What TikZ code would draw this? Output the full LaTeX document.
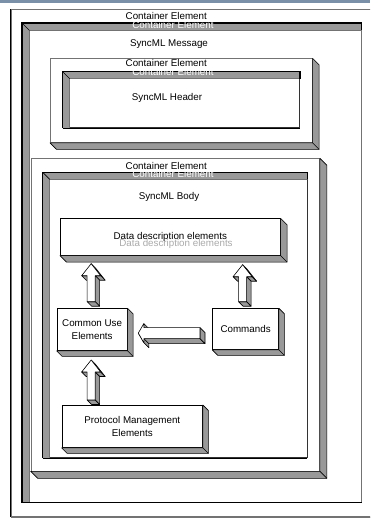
\documentclass[tikz,border=0pt]{standalone}
\usepackage{fontspec}
\setmainfont{Liberation Sans}
\usetikzlibrary{calc, positioning}
\definecolor{cBar}{RGB}{122,143,168}
\definecolor{cFace}{RGB}{153,153,153}
\definecolor{cEdge}{RGB}{115,115,115}
\definecolor{cGhost}{RGB}{170,170,170}
\newcommand{\lblfont}{\fontsize{9.8}{12.5}\selectfont}
\tikzset{
	container/.style={rectangle, draw=cEdge, fill=white, line width=0.6pt, inner sep=0pt, anchor=north west},
	trayrect/.style ={rectangle, draw=black!80, fill=white, line width=0.6pt, inner sep=0pt, anchor=north west},
	elem/.style     ={rectangle, draw=black, fill=white, line width=0.6pt, inner sep=0pt, anchor=north west, align=center, font=\lblfont},
	sideface/.style ={draw=black, fill=cFace, line width=0.6pt, line join=round},
	frontface/.style={draw=black, fill=white, line width=0.6pt, line join=round},
	lbl/.style      ={font=\lblfont, inner sep=0pt},
	ghost/.style    ={font=\lblfont, inner sep=0pt, text=white},
}
% raised box: right and bottom faces of a node
\newcommand{\raisedfaces}[2]{%
	\path[sideface] (#1.north east) -- ++(#2,#2) -- ($(#1.south east)+(#2,#2)$) -- ($(#1.south west)+(#2,#2)$) -- (#1.south west) -- (#1.south east) -- cycle;
	\draw[line width=0.6pt] (#1.south east) -- ++(#2,#2);
}
% sunken tray: top and left walls inside a node
\newcommand{\trayfaces}[2]{%
	\path[fill=cFace] (#1.north west) -- (#1.north east) -- ($(#1.north east)+(0,#2)$) -- ($(#1.north west)+(#2,#2)$) -- ($(#1.south west)+(#2,0)$) -- (#1.south west) -- cycle;
	\draw[cEdge, line width=0.6pt] ($(#1.north east)+(0,#2)$) -- ($(#1.north west)+(#2,#2)$) -- ($(#1.south west)+(#2,0)$);
	\draw[line width=1.4pt] (#1.south west) -- (#1.north west) -- (#1.north east) -- ++(0,#2);
	\draw[line width=0.6pt] (#1.north west) -- ++(#2,#2);
	\draw[line width=0.6pt] (#1.south west) -- (#1.south east);
}
% 3d block arrow pointing up, #1 = foot of the shaft, #2 = length
\newcommand{\uparrowiii}[2]{%
	\begin{scope}[shift={#1}]
		\pgfmathsetmacro{\hy}{-#2+12}
		\pgfmathsetmacro{\hd}{-#2+16.5}
		\pgfmathsetmacro{\ty}{-#2+4.5}
		\path[sideface] (-9.5,\hy) -- (-4,\hy) -- (0.5,\hd) -- (-5,\hd) -- cycle;
		\path[sideface] (0,-#2) -- (9.5,\hy) -- (14,\hd) -- (4.5,\ty) -- cycle;
		\path[sideface] (9.5,\hy) -- (4,\hy) -- (8.5,\hd) -- (14,\hd) -- cycle;
		\path[sideface] (4,\hy) -- (4,0) -- (8.5,4.5) -- (8.5,\hd) -- cycle;
		\path[sideface] (-4,0) -- (4,0) -- (8.5,4.5) -- (0.5,4.5) -- cycle;
		\path[frontface] (0,-#2) -- (9.5,\hy) -- (4,\hy) -- (4,0) -- (-4,0) -- (-4,\hy) -- (-9.5,\hy) -- cycle;
	\end{scope}
}
% 3d block arrow pointing left, #1 = end of the shaft, #2 = length
\newcommand{\leftarrowiii}[2]{%
	\begin{scope}[shift={#1}]
		\pgfmathsetmacro{\hx}{-#2+5.5}
		\pgfmathsetmacro{\hd}{-#2+10.5}
		\pgfmathsetmacro{\tx}{-#2+5}
		\path[sideface] (\hx,-9.5) -- (\hx,-5.5) -- (\hd,-0.5) -- (\hd,-4.5) -- cycle;
		\path[sideface] (-#2,0) -- (\hx,9.5) -- (\hd,14.5) -- (\tx,5) -- cycle;
		\path[sideface] (\hx,9.5) -- (\hx,5.5) -- (\hd,10.5) -- (\hd,14.5) -- cycle;
		\path[sideface] (\hx,5.5) -- (0,5.5) -- (5,10.5) -- (\hd,10.5) -- cycle;
		\path[sideface] (0,-5.5) -- (0,5.5) -- (5,10.5) -- (5,-0.5) -- cycle;
		\path[frontface] (-#2,0) -- (\hx,-9.5) -- (\hx,-5.5) -- (0,-5.5) -- (0,5.5) -- (\hx,5.5) -- (\hx,9.5) -- cycle;
	\end{scope}
}

\begin{document}
\begin{tikzpicture}[x=1pt, y=-1pt]
	\useasboundingbox (0,0) rectangle (370,518);
	\clip (0,0) rectangle (370,518);
	\fill[white] (0,0) rectangle (370,518);
	\fill[cBar] (0,0) rectangle (370,3.5);
	\node[container, minimum width=380, minimum height=507] (frame) at (10.5,9.5) {};
	\draw[line width=0.8pt] (frame.north west) -- (frame.south west);
	\draw[cEdge, line width=1.6pt] (frame.south west) -- (frame.south east);

	\node[trayrect, draw=cEdge, minimum width=339, minimum height=479] (msg) at (22,23) {};
	\trayfaces{msg}{7.5}
	\node[lbl] (msgtop) at (166.3,16.5) {Container Element};
	\node[ghost] (msgecho) at (173,25.5) {Container Element};
	\node[lbl] (msgname) at (169,44) {SyncML Message};

	\node[container, minimum width=262, minimum height=84] (hdc) at (50,58.3) {};
	\raisedfaces{hdc}{6.5}
	\node[trayrect, minimum width=236.5, minimum height=55.6] (hdr) at (62.7,71.7) {};
	\trayfaces{hdr}{7}
	\node[lbl] (hdrtop) at (166.3,63) {Container Element};
	\node[ghost] (hdrecho) at (173,72) {Container Element};
	\node[lbl] (hdrname) at (167,98) {SyncML Header};

	\node[container, minimum width=288.6, minimum height=312.4] (bdc) at (30.7,158.3) {};
	\raisedfaces{bdc}{7}
	\node[trayrect, minimum width=264, minimum height=285] (bdy) at (42.7,172.3) {};
	\trayfaces{bdy}{7}
	\node[lbl] (bdytop) at (166.3,165.5) {Container Element};
	\node[ghost] (bdyecho) at (173,174) {Container Element};
	\node[lbl] (bdyname) at (169,196.5) {SyncML Body};

	\node[elem, minimum width=220, minimum height=36.7] (dd) at (60,218.3) {};
	\raisedfaces{dd}{6.5}
	\node[lbl, text=cGhost] (ddecho) at (176,244) {Data description elements};
	\node[lbl] (ddname) at (dd.center) {Data description elements};

	\node[elem, minimum width=70.3, minimum height=42] (cu) at (56.7,308.3) {Common Use\\Elements};
	\raisedfaces{cu}{5.5}
	\node[elem, minimum width=66, minimum height=41] (cmd) at (212.3,308.3) {Commands};
	\raisedfaces{cmd}{5.5}
	\node[elem, minimum width=140.6, minimum height=42.3] (pm) at (61.7,405) {Protocol Management\\Elements};
	\raisedfaces{pm}{5.5}

	\uparrowiii{($(cu.north)+(-1,-6.6)$)}{38}
	\uparrowiii{($(cmd.north)+(-3,-6.6)$)}{37}
	\uparrowiii{($(cu.south |- pm.north)+(-1,-5)$)}{40}
	\leftarrowiii{($(cmd.west)+(-12.3,4)$)}{61.7}
\end{tikzpicture}
\end{document}
